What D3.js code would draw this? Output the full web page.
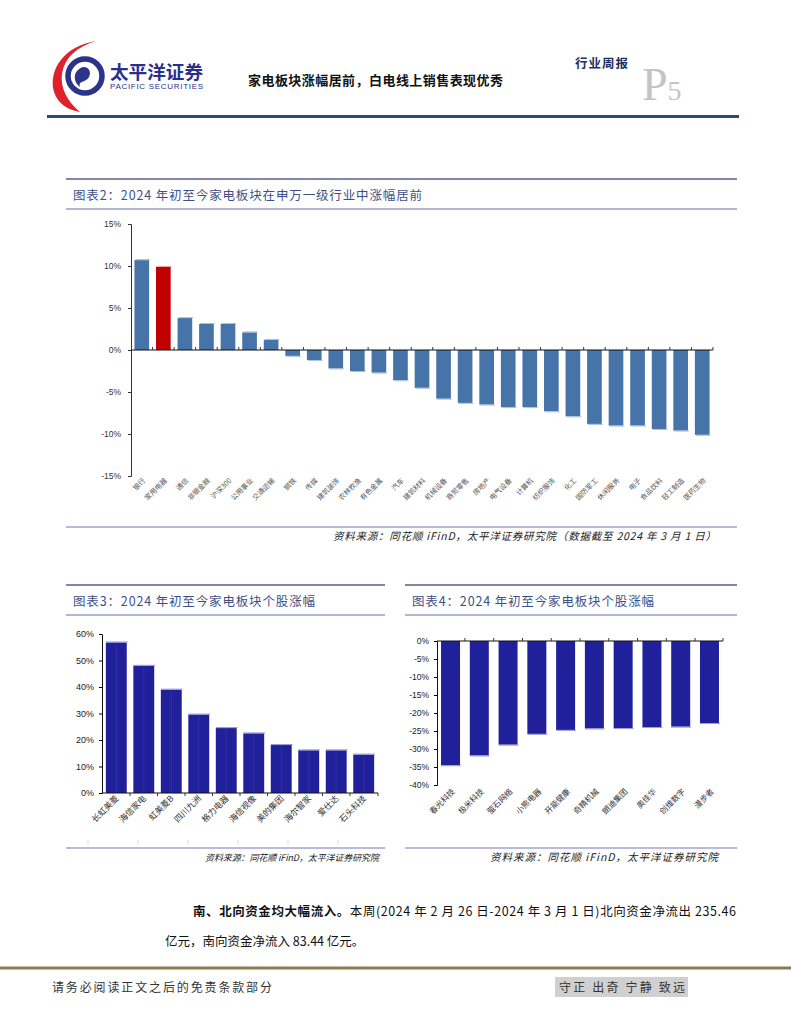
<!DOCTYPE html>
<html><head><meta charset="utf-8">
<script src="https://cdn.jsdelivr.net/npm/d3@7/dist/d3.min.js"></script>
<style>
body{margin:0;background:#fff;}
svg{display:block;font-family:"Noto Sans CJK SC","Noto Sans",sans-serif;}
</style></head><body>
<svg id="page" width="791" height="1024"></svg>
<script>
// ---------- data ----------
const industryCats = ["银行","家用电器","通信","非银金融","沪深300","公用事业","交通运输","钢铁","传媒","建筑装饰","农林牧渔","有色金属","汽车","建筑材料","机械设备","商贸零售","房地产","电气设备","计算机","纺织服饰","化工","国防军工","休闲服务","电子","食品饮料","轻工制造","医药生物"];
const industryVals = [10.7,9.9,3.8,3.1,3.1,2.1,1.2,-0.7,-1.2,-2.2,-2.5,-2.7,-3.6,-4.5,-5.8,-6.3,-6.5,-6.8,-6.8,-7.3,-7.9,-8.8,-9.0,-9.0,-9.4,-9.6,-10.1];
const industryHighlight = "家用电器";
const industryTicks = [-15,-10,-5,0,5,10,15];

const gainCats = ["长虹美菱","海信家电","虹美菱B","四川九洲","格力电器","海信视像","美的集团","海尔智家","爱仕达","石头科技"];
const gainVals = [56.8,48.0,39.0,29.6,24.5,22.5,18.1,16.1,16.1,14.5];
const gainTicks = [0,10,20,30,40,50,60];

const lossCats = ["春光科技","极米科技","萤石网络","小熊电器","开能健康","奇精机械","朗迪集团","奥佳华","创维数字","漫步者"];
const lossVals = [-34.5,-31.8,-28.8,-25.8,-24.7,-24.3,-24.2,-23.9,-23.8,-22.8];
const lossTicks = [-40,-35,-30,-25,-20,-15,-10,-5,0];

// ---------- page ----------
const svg = d3.select("#page");
const CJK = '"Noto Sans CJK SC","Noto Sans",sans-serif';
const SANS = '"Liberation Sans",Arial,sans-serif';

// logo
const logo = svg.append("g");
logo.append("path")
  .attr("d","M96,41 C64,46 48,70 54,92 C58,104 68,110 80,112 C67,101 60,88 62,73 C65,58 76,47 96,41 Z")
  .attr("fill","#e0202a");
logo.append("circle").attr("cx",85).attr("cy",76).attr("r",17).attr("fill","none").attr("stroke","#2b3488").attr("stroke-width",5.5);
logo.append("path").attr("d","M78,70 C84,63 93,69 89,77 C86,83 78,80 80,87 C74,83 73,74 78,70 Z").attr("fill","#2b3488");
logo.append("text").attr("x",110).attr("y",79).attr("font-family",CJK).attr("font-weight","bold")
  .attr("font-size",18.5).attr("textLength",93).attr("lengthAdjust","spacingAndGlyphs").attr("fill","#2b2f8c").text("太平洋证券");
logo.append("text").attr("x",110).attr("y",89).attr("font-family",SANS)
  .attr("font-size",8).attr("textLength",93).attr("fill","#2b2f8c").text("PACIFIC SECURITIES");

svg.append("text").attr("x",248).attr("y",85).attr("font-family",CJK).attr("font-weight","bold")
  .attr("font-size",13).attr("textLength",255).attr("fill","#111").text("家电板块涨幅居前，白电线上销售表现优秀");
svg.append("text").attr("x",575).attr("y",68).attr("font-family",CJK).attr("font-weight","bold")
  .attr("font-size",12.5).attr("textLength",53).attr("fill","#1f3060").text("行业周报");
const p5 = svg.append("text").attr("x",642).attr("y",100).attr("font-family",'"Liberation Serif",serif').attr("fill","#c4c4c4");
p5.append("tspan").attr("font-size",46).text("P");
p5.append("tspan").attr("font-size",28).text("5");
svg.append("line").attr("x1",47).attr("x2",739).attr("y1",116.5).attr("y2",116.5).attr("stroke","#2e4a76").attr("stroke-width",3);

// section frame helper
function section(x1,x2,yTop,title,titleLen,ySrc,srcText,srcRight,srcLen,srcSize){
  svg.append("line").attr("x1",x1).attr("x2",x2).attr("y1",yTop).attr("y2",yTop).attr("stroke","#8585aa").attr("stroke-width",2);
  svg.append("text").attr("x",x1+7).attr("y",yTop+21).attr("font-family",CJK).attr("font-size",12.5)
    .attr("textLength",titleLen).attr("fill","#3d4f86").text(title);
  svg.append("line").attr("x1",x1).attr("x2",x2).attr("y1",yTop+30).attr("y2",yTop+30).attr("stroke","#b4b4d4").attr("stroke-width",2);
  svg.append("line").attr("x1",x1).attr("x2",x2).attr("y1",ySrc).attr("y2",ySrc).attr("stroke","#a4a4cc").attr("stroke-width",1.5);
  svg.append("text").attr("x",srcRight-srcLen).attr("y",ySrc+13).attr("font-family",CJK)
    .attr("font-style","italic").attr("font-size",srcSize).attr("textLength",srcLen).attr("fill","#222").text(srcText);
}

section(66,737,179,"图表2：2024 年初至今家电板块在申万一级行业中涨幅居前",349,527,"资料来源：同花顺 iFinD，太平洋证券研究院（数据截至 2024 年 3 月 1 日）",716,383,10.5);
section(66,385,585,"图表3：2024 年初至今家电板块个股涨幅",242,848,"资料来源：同花顺 iFinD，太平洋证券研究院",379,174,9);
section(405,737,585,"图表4：2024 年初至今家电板块个股涨幅",242,848,"资料来源：同花顺 iFinD，太平洋证券研究院",718,228,10.5);

// ---------- chart 2 ----------
{
  const g = svg.append("g");
  const x = d3.scaleBand().domain(industryCats).range([131,713]).paddingInner(0.32).paddingOuter(0.16);
  const y = d3.scaleLinear().domain([-15,15]).range([476,224]);
  g.selectAll("rect.b").data(industryCats).join("rect")
    .attr("x",d=>x(d)).attr("width",x.bandwidth())
    .attr("y",(d,i)=>Math.min(y(industryVals[i]),y(0)))
    .attr("height",(d,i)=>Math.abs(y(industryVals[i])-y(0)))
    .attr("fill",d=>d===industryHighlight?"#c00000":"#4673a8");
  g.selectAll("line.e").data(industryCats).join("line")
    .attr("x1",d=>x(d)+1).attr("x2",d=>x(d)+x.bandwidth()+1)
    .attr("y1",(d,i)=>y(industryVals[i])+(industryVals[i]<0?0.5:-0.5))
    .attr("y2",(d,i)=>y(industryVals[i])+(industryVals[i]<0?0.5:-0.5))
    .attr("stroke",d=>d===industryHighlight?"#f0a0a0":"#a8c0dc").attr("stroke-width",1);
  const ya = g.append("g").attr("transform","translate(131,0)")
    .call(d3.axisLeft(y).tickValues(industryTicks).tickSize(3).tickFormat(d=>d+"%"));
  ya.select(".domain").attr("stroke","#333");
  ya.selectAll(".tick line").attr("stroke","#333");
  ya.selectAll("text").attr("font-family",SANS).attr("font-size",8.5).attr("fill","#333").attr("dx",-4);
  g.append("line").attr("x1",131).attr("x2",713).attr("y1",y(0)).attr("y2",y(0)).attr("stroke","#111").attr("stroke-width",1.2);
  const bounds = industryCats.map(d=>x(d)-x.step()*x.paddingInner()/2).slice(1).concat([713]);
  g.selectAll("line.t").data(bounds).join("line")
    .attr("x1",d=>d).attr("x2",d=>d).attr("y1",y(0)).attr("y2",y(0)-3).attr("stroke","#333");
  g.selectAll("text.l").data(industryCats).join("text")
    .attr("transform",d=>`translate(${x(d)+x.bandwidth()/2+4},${481}) rotate(-45)`)
    .attr("text-anchor","end").attr("font-family",CJK).attr("font-size",7).attr("fill","#555").text(d=>d);
}

// ---------- chart 3 ----------
{
  const g = svg.append("g");
  const x = d3.scaleBand().domain(gainCats).range([102,378]).paddingInner(0.24).paddingOuter(0.14);
  const y = d3.scaleLinear().domain([0,60]).range([793,634]);
  g.selectAll("rect").data(gainCats).join("rect")
    .attr("x",d=>x(d)).attr("width",x.bandwidth())
    .attr("y",(d,i)=>y(gainVals[i])).attr("height",(d,i)=>y(0)-y(gainVals[i]))
    .attr("fill","#20209a");
  g.selectAll("line.m").data(gainCats).join("line")
    .attr("x1",d=>x(d)+x.bandwidth()/2).attr("x2",d=>x(d)+x.bandwidth()/2)
    .attr("y1",(d,i)=>y(gainVals[i])).attr("y2",y(0)).attr("stroke","#3333aa").attr("stroke-width",0.8);
  g.selectAll("line.e").data(gainCats).join("line")
    .attr("x1",d=>x(d)).attr("x2",d=>x(d)+x.bandwidth()+1)
    .attr("y1",(d,i)=>y(gainVals[i])-0.5).attr("y2",(d,i)=>y(gainVals[i])-0.5)
    .attr("stroke","#9a9ad0").attr("stroke-width",1);
  const ya = g.append("g").attr("transform","translate(102,0)")
    .call(d3.axisLeft(y).tickValues(gainTicks).tickSize(3).tickFormat(d=>d+"%"));
  ya.select(".domain").attr("stroke","#111");
  ya.selectAll("text").attr("font-family",SANS).attr("font-size",9).attr("fill","#222").attr("dx",-2);
  g.append("line").attr("x1",102).attr("x2",378).attr("y1",y(0)).attr("y2",y(0)).attr("stroke","#111");
  const bounds = gainCats.map(d=>x(d)-x.step()*x.paddingInner()/2).slice(1).concat([378]);
  g.selectAll("line.t").data(bounds).join("line")
    .attr("x1",d=>d).attr("x2",d=>d).attr("y1",y(0)).attr("y2",y(0)+3).attr("stroke","#333");
  g.selectAll("text.l").data(gainCats).join("text")
    .attr("transform",d=>`translate(${x(d)+x.bandwidth()/2+3},${799}) rotate(-45)`)
    .attr("text-anchor","end").attr("font-family",CJK).attr("font-size",8.5).attr("fill","#333").text(d=>d);
  g.selectAll("line.s").data([88,138,188,238,288,338]).join("line")
    .attr("x1",d=>d).attr("x2",d=>d).attr("y1",840).attr("y2",845).attr("stroke","#ddd");
}

// ---------- chart 4 ----------
{
  const g = svg.append("g");
  const x = d3.scaleBand().domain(lossCats).range([437,723]).paddingInner(0.34).paddingOuter(0.14);
  const y = d3.scaleLinear().domain([-40,0]).range([785,641]);
  g.selectAll("rect").data(lossCats).join("rect")
    .attr("x",d=>x(d)).attr("width",x.bandwidth())
    .attr("y",y(0)).attr("height",(d,i)=>y(lossVals[i])-y(0))
    .attr("fill","#20209a");
  g.selectAll("line.e").data(lossCats).join("line")
    .attr("x1",d=>x(d)).attr("x2",d=>x(d)+x.bandwidth()+1)
    .attr("y1",(d,i)=>y(lossVals[i])+0.5).attr("y2",(d,i)=>y(lossVals[i])+0.5)
    .attr("stroke","#9a9ad0").attr("stroke-width",1);
  const ya = g.append("g").attr("transform","translate(437,0)")
    .call(d3.axisLeft(y).tickValues(lossTicks).tickSize(3).tickFormat(d=>d+"%"));
  ya.select(".domain").attr("stroke","#111");
  ya.selectAll("text").attr("font-family",SANS).attr("font-size",8.5).attr("fill","#222").attr("dx",-2);
  g.append("line").attr("x1",437).attr("x2",723).attr("y1",y(0)).attr("y2",y(0)).attr("stroke","#111");
  const bounds = lossCats.map(d=>x(d)-x.step()*x.paddingInner()/2).slice(1).concat([723]);
  g.selectAll("line.t").data(bounds).join("line")
    .attr("x1",d=>d).attr("x2",d=>d).attr("y1",y(0)).attr("y2",y(0)-3).attr("stroke","#333");
  g.selectAll("text.l").data(lossCats).join("text")
    .attr("transform",d=>`translate(${x(d)+x.bandwidth()/2+5},${792}) rotate(-45)`)
    .attr("text-anchor","end").attr("font-family",CJK).attr("font-size",8).attr("fill","#333").text(d=>d);
}

// ---------- body text ----------
const t1 = svg.append("text").attr("x",193).attr("y",916).attr("font-family",CJK).attr("font-size",12.5)
  .attr("textLength",543).attr("lengthAdjust","spacing").attr("fill","#111");
t1.append("tspan").attr("font-weight","bold").text("南、北向资金均大幅流入。");
t1.append("tspan").text("本周(2024 年 2 月 26 日-2024 年 3 月 1 日)北向资金净流出 235.46");
svg.append("text").attr("x",165).attr("y",946).attr("font-family",CJK).attr("font-size",12.5).attr("fill","#111")
  .text("亿元，南向资金净流入 83.44 亿元。");

// ---------- footer ----------
svg.append("line").attr("x1",0).attr("x2",791).attr("y1",968).attr("y2",968).attr("stroke","#8a7c52").attr("stroke-width",3);
svg.append("text").attr("x",52).attr("y",992).attr("font-family",CJK).attr("font-size",12).attr("textLength",220).attr("fill","#333").text("请务必阅读正文之后的免责条款部分");
svg.append("rect").attr("x",555).attr("y",977).attr("width",133).attr("height",20).attr("fill","#d0d0d0");
svg.append("text").attr("x",559).attr("y",992).attr("font-family",CJK).attr("font-size",12).attr("textLength",126).attr("fill","#333").text("守正 出奇 宁静 致远");
</script>
</body></html>
